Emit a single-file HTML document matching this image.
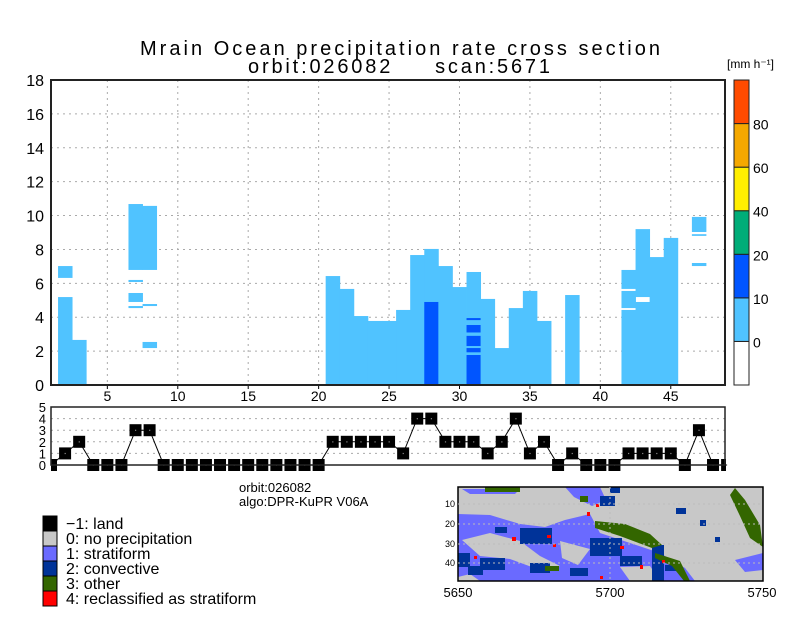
<!DOCTYPE html>
<html><head><meta charset="utf-8"><style>
html,body{margin:0;padding:0;background:#fff;}
svg{display:block;font-family:"Liberation Sans",sans-serif;}
</style></head><body>
<svg id="c" width="800" height="618" viewBox="0 0 800 618">
<text x="400" y="55" font-size="20" text-anchor="middle" textLength="520" lengthAdjust="spacing">Mrain Ocean precipitation rate cross section</text>
<text x="399" y="73" font-size="20" text-anchor="middle" textLength="302" lengthAdjust="spacing">orbit:026082&#160;&#160;&#160;&#160;&#160;scan:5671</text>
<g id="main"></g>
<g id="cbar"></g>
<g id="type"></g>
<text x="239" y="492" font-size="13">orbit:026082</text>
<text x="239" y="506" font-size="13">algo:DPR-KuPR V06A</text>
<g id="legend"></g>
<g id="map"></g>
</svg>
<script>
// Main chart data: segments [rayIndex, bottomKm, topKm, rateClass]  (class 0: 0-10, 1: 10-20)
const segRay = [2,2,3,7,7,7,7,8,8,8,21,22,23,24,25,26,27,28,28,29,30,31,31,31,31,31,31,32,33,34,35,36,38,42,42,42,43,43,44,45,47,47,47];
const segBot = [0,6.32,0,6.79,6.08,4.9,4.54,6.79,4.66,2.18,0,0,0,0,0,0,0,0,0,0,0,0,0,1.93,2.3,3.1,3.83,0,0,0,0,0,0,0,4.54,5.67,0,5.19,0,0,9.03,8.8,7.02];
const segTop = [5.19,7.02,2.66,10.68,6.2,5.43,4.66,10.57,4.78,2.54,6.43,5.67,4.07,3.78,3.78,4.43,7.67,8.03,4.9,7.02,5.78,6.67,1.77,2.18,2.9,3.54,3.95,5.08,2.18,4.54,5.55,3.78,5.31,4.43,5.55,6.79,4.9,9.2,7.55,8.68,9.92,8.9,7.2];
const segCls = [0,0,0,0,0,0,0,0,0,0,0,0,0,0,0,0,0,0,1,0,0,0,1,1,1,1,1,0,0,0,0,0,0,0,0,0,0,0,0,0,0,0,0];
const xTicks = [5,10,15,20,25,30,35,40,45];
const yTicks = [0,2,4,6,8,10,12,14,16,18];
// Rain type per ray
const typeRays = [1,2,3,4,5,6,7,8,9,10,11,12,13,14,15,16,17,18,19,20,21,22,23,24,25,26,27,28,29,30,31,32,33,34,35,36,37,38,39,40,41,42,43,44,45,46,47,48,49];
const typeVals = [0,1,2,0,0,0,3,3,0,0,0,0,0,0,0,0,0,0,0,0,2,2,2,2,2,1,4,4,2,2,2,1,2,4,1,2,0,1,0,0,0,1,1,1,1,0,3,0,0];
const typeYTicks = [0,1,2,3,4,5];
const cbarLabels = ["0","10","20","40","60","80"];
const cbarColors = ["#ffffff","#50c3ff","#0055ff","#00ad78","#ffee00","#f5a800","#ff4b00"];
const legendLabels = ["\u22121: land","0: no precipitation","1: stratiform","2: convective","3: other","4: reclassified as stratiform"];
const legendColors = ["#000000","#c8c8c8","#6a6aff","#003399","#336600","#ff0000"];

const NS="http://www.w3.org/2000/svg";
function mk(parent,tag,attrs){const e=document.createElementNS(NS,tag);for(const k in attrs)e.setAttribute(k,attrs[k]);parent.appendChild(e);return e;}
const L=51,R=725,X0=1,X1=48.85;
const sx=v=>L+(v-X0)*(R-L)/(X1-X0);
const MT=80,MB=385;
const sy=v=>MB-v*(MB-MT)/18;

const main=document.getElementById('main');
yTicks.forEach(t=>{if(t>0&&t<18){const g=mk(main,'line',{x1:L,x2:R,y1:sy(t),y2:sy(t),stroke:'#aaa','stroke-dasharray':'2,4'});

}
const tx=mk(main,'text',{x:44,y:sy(t)+6,'font-size':16,'text-anchor':'end'});tx.textContent=t;

});
xTicks.forEach(t=>{const g=mk(main,'line',{x1:sx(t),x2:sx(t),y1:MT,y2:MB,stroke:'#aaa','stroke-dasharray':'2,4'});


const tk=mk(main,'line',{x1:sx(t),x2:sx(t),y1:MB,y2:MB+4,stroke:'#000'});


const tx=mk(main,'text',{x:sx(t),y:MB+16,'font-size':14,'text-anchor':'middle'});tx.textContent=t;

});
segRay.forEach((r,i)=>{const y1=sy(segTop[i]),y2=sy(segBot[i]);
const b=mk(main,'rect',{x:sx(r-0.5),y:y1,width:sx(r+0.5)-sx(r-0.5)+0.4,height:y2-y1,fill:cbarColors[segCls[i]+1]});

});
const fr=mk(main,'rect',{x:L,y:MT,width:R-L,height:MB-MT,fill:'none',stroke:'#222','stroke-width':2});



// colorbar
const cb=document.getElementById('cbar');
const CT=80,CB=385,seg=(CB-CT)/7;
cbarColors.forEach((c,i)=>{const r=mk(cb,'rect',{x:734,y:CB-(i+1)*seg,width:15,height:seg,fill:c,stroke:'#222','stroke-width':1});

});
cbarLabels.forEach((l,i)=>{const t=mk(cb,'text',{x:753,y:CB-(i+1)*seg+6,'font-size':14});t.textContent=l;

});
const un=mk(cb,'text',{x:727,y:68,'font-size':12});un.textContent='[mm h\u207B\u00B9]';



// rain type plot
const tp=document.getElementById('type');
const TT=407,TB=465;
const ty=v=>TB-v*(TB-TT)/5;
typeYTicks.forEach(t=>{if(t>0&&t<5){const g=mk(tp,'line',{x1:L,x2:R,y1:ty(t),y2:ty(t),stroke:'#aaa','stroke-dasharray':'2,4'});

}
const tx=mk(tp,'text',{x:46,y:ty(t)+5,'font-size':13,'text-anchor':'end'});tx.textContent=t;

});
const pts=typeRays.map((r,i)=>sx(r)+','+ty(typeVals[i])).join(' ');
const pl=mk(tp,'polyline',{points:pts,fill:'none',stroke:'#000','stroke-width':1});


const cp=mk(tp,'clipPath',{id:'tclip'});mk(cp,'rect',{x:L,y:TT-10,width:R-L+1,height:TB-TT+20});
const pg=mk(tp,'g',{'clip-path':'url(#tclip)'});
typeRays.forEach((r,i)=>{const m=mk(pg,'rect',{x:sx(r)-6,y:ty(typeVals[i])-6,width:12,height:12,fill:'#000'});


const d=mk(pg,'rect',{x:sx(r)-0.5,y:ty(typeVals[i])-0.5,width:1.2,height:1.2,fill:'#888'});

});
const tf=mk(tp,'rect',{x:L,y:TT,width:R-L,height:TB-TT,fill:'none',stroke:'#222','stroke-width':1.5});



// legend
const lg=document.getElementById('legend');
legendLabels.forEach((l,i)=>{const y=516+i*15;
const r=mk(lg,'rect',{x:43,y:y,width:14,height:15,fill:legendColors[i],stroke:'#000','stroke-width':1});


const t=mk(lg,'text',{x:66,y:y+13,'font-size':16});t.textContent=l;

});
</script>
<svg style="position:absolute;left:0;top:0" width="800" height="618">
<g font-family="Liberation Sans, sans-serif">
<rect x="458" y="487" width="305" height="94" fill="#c8c8c8"/>
<g fill="#6a6aff">
<polygon points="458,514 490,515 520,524 545,527 565,520 590,514 600,533 630,543 660,553 685,568 695,581 458,581"/>
<polygon points="565,487 600,487 606,500 592,506 574,497"/>
<polygon points="462,489 520,489 515,494 470,494"/>
<polygon points="735,560 763,553 763,570 745,572"/>
</g>
<g fill="#c8c8c8">
<polygon points="462,540 490,533 520,541 540,556 560,566 540,570 510,559 480,556"/>
<polygon points="560,541 590,549 578,565 562,558"/>
<polygon points="620,567 650,566 660,581 630,581"/>
<polygon points="458,577 470,574 480,581 458,581"/>
</g>
<g fill="#003399">
<rect x="520" y="528" width="32" height="16"/><rect x="480" y="558" width="25" height="12"/>
<rect x="590" y="538" width="32" height="18"/><rect x="652" y="545" width="12" height="36"/>
<rect x="600" y="496" width="15" height="10"/><rect x="468" y="566" width="15" height="9"/>
<rect x="530" y="563" width="20" height="10"/><rect x="620" y="556" width="22" height="10"/>
<rect x="610" y="487" width="10" height="6"/><rect x="458" y="553" width="12" height="14"/>
<rect x="495" y="527" width="12" height="6"/><rect x="570" y="568" width="18" height="8"/>
<rect x="665" y="565" width="15" height="6"/><rect x="700" y="520" width="6" height="6"/>
<rect x="676" y="508" width="10" height="6"/><rect x="715" y="537" width="5" height="5"/>
</g>
<g fill="#336600">
<polygon points="595,521 625,524 650,534 662,545 652,548 620,536 595,528"/>
<polygon points="735,488 745,500 760,525 763,547 750,538 740,516 730,495"/>
<rect x="485" y="487" width="35" height="5"/>
<polygon points="655,553 680,561 690,581 684,581 672,566 655,558"/>
<rect x="545" y="566" width="14" height="5"/>
<rect x="580" y="496" width="8" height="6"/>
</g>
<g fill="#ff0000">
<rect x="587" y="512" width="3" height="4"/><rect x="512" y="537" width="4" height="4"/>
<rect x="547" y="535" width="4" height="3"/><rect x="474" y="556" width="3" height="3"/>
<rect x="620" y="546" width="4" height="3"/><rect x="640" y="565" width="3" height="4"/>
<rect x="596" y="504" width="3" height="3"/><rect x="662" y="560" width="3" height="3"/>
<rect x="600" y="576" width="3" height="3"/><rect x="553" y="544" width="3" height="3"/>
</g>
<rect x="458" y="487" width="305" height="94" fill="none" stroke="#000" stroke-width="1.5"/>
<g stroke="#bbb" stroke-dasharray="2,3"><line x1="458" x2="763" y1="504" y2="504"/><line x1="458" x2="763" y1="524" y2="524"/><line x1="458" x2="763" y1="544" y2="544"/><line x1="458" x2="763" y1="563" y2="563"/><line x1="610" x2="610" y1="487" y2="581"/></g>
<g font-size="9" text-anchor="end"><text x="455" y="507">10</text><text x="455" y="527">20</text><text x="455" y="547">30</text><text x="455" y="566">40</text></g>
<g font-size="13" text-anchor="middle"><text x="458" y="597">5650</text><text x="610" y="597">5700</text><text x="762" y="597">5750</text></g>
</g>
</svg>
</body></html>
